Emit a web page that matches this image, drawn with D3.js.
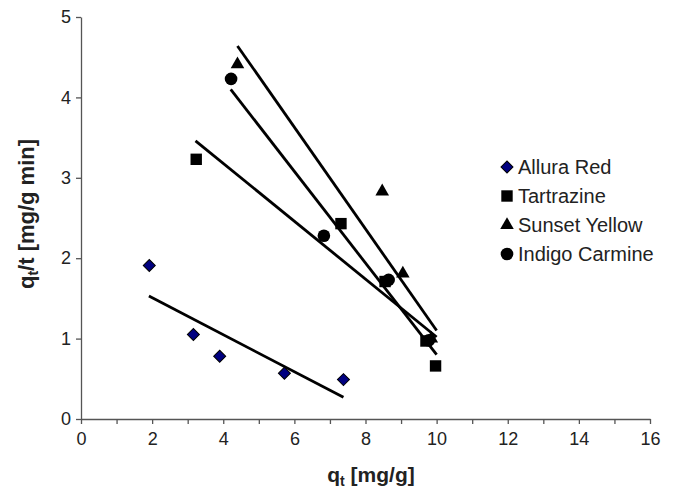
<!DOCTYPE html>
<html>
<head>
<meta charset="utf-8">
<script src="https://cdn.jsdelivr.net/npm/d3@7"></script>
<style>
  body { margin: 0; background: #fff; }
  text { font-family: Arial, "Liberation Sans", sans-serif; }
</style>
</head>
<body>
<svg width="673" height="492"></svg>
<script>
// series names
var seriesNames = ["Allura Red", "Tartrazine", "Sunset Yellow", "Indigo Carmine"];

// measured points (qt, qt/t)
var alluraX = [1.92, 3.16, 3.9, 5.72, 7.38];
var alluraY = [1.91, 1.05, 0.78, 0.57, 0.49];
var tartrazineX = [3.24, 7.31, 8.55, 9.7, 9.97];
var tartrazineY = [3.23, 2.43, 1.71, 0.97, 0.66];
var sunsetX = [4.4, 8.47, 9.05, 9.85];
var sunsetY = [4.41, 2.83, 1.81, 1.0];
var indigoX = [4.22, 6.83, 8.65, 9.78];
var indigoY = [4.23, 2.28, 1.73, 0.98];

// fitted trend lines, read as [x0, y0, x1, y1]
var alluraFit = [1.91, 1.53, 7.38, 0.27];
var tartrazineFit = [3.22, 3.46, 10.0, 1.02];
var sunsetFit = [4.4, 4.64, 10.0, 1.1];
var indigoFit = [4.21, 4.1, 10.0, 0.8];

// axis ticks
var xTicks = [0, 1, 2, 3, 4, 5, 6, 7, 8, 9, 10, 11, 12, 13, 14, 15, 16];
var yTicks = [0, 1, 2, 3, 4, 5];

var svg = d3.select("svg");
svg.append("rect").attr("width", 673).attr("height", 492).attr("fill", "#fff");

var plotLeft = 81, plotRight = 650, plotTop = 17, plotBottom = 419;

var x = d3.scaleLinear().domain([0, 16]).range([plotLeft, plotRight]);
var y = d3.scaleLinear().domain([0, 5]).range([plotBottom, plotTop]);

var axisColor = "#555";
var fontFam = "Arial, 'Liberation Sans', sans-serif";

// x axis
var xAxis = svg.append("g")
    .attr("transform", "translate(0," + plotBottom + ")")
    .call(d3.axisBottom(x).tickValues(xTicks).tickSize(5).tickSizeOuter(0).tickPadding(8)
        .tickFormat(function(d) { return d % 2 == 0 ? d : ""; }));
xAxis.select(".domain").attr("stroke", axisColor).attr("stroke-width", 1.3);
xAxis.selectAll(".tick line").attr("stroke", axisColor).attr("stroke-width", 1.3);
xAxis.selectAll(".tick text").attr("font-size", 18).attr("fill", "#222")
    .style("font-family", fontFam);

// y axis
var yAxis = svg.append("g")
    .attr("transform", "translate(" + plotLeft + ",0)")
    .call(d3.axisLeft(y).tickValues(yTicks).tickFormat(d3.format("d"))
        .tickSize(5).tickSizeOuter(0).tickPadding(5));
yAxis.select(".domain").attr("stroke", axisColor).attr("stroke-width", 1.3);
yAxis.selectAll(".tick line").attr("stroke", axisColor).attr("stroke-width", 1.3);
yAxis.selectAll(".tick text").attr("font-size", 18).attr("fill", "#222")
    .style("font-family", fontFam);

// axis titles
var xTitle = svg.append("text")
    .attr("x", 371).attr("y", 482)
    .attr("text-anchor", "middle")
    .attr("font-size", 21).attr("font-weight", "bold").attr("fill", "#222");
xTitle.append("tspan").text("q");
xTitle.append("tspan").attr("font-size", 14).attr("dy", 4).text("t");
xTitle.append("tspan").attr("dy", -4).text(" [mg/g]");

var yTitle = svg.append("text")
    .attr("transform", "translate(34,214) rotate(-90)")
    .attr("text-anchor", "middle")
    .attr("font-size", 22).attr("font-weight", "bold").attr("fill", "#222");
yTitle.append("tspan").text("q");
yTitle.append("tspan").attr("font-size", 14).attr("dy", 4).text("t");
yTitle.append("tspan").attr("dy", -4).text("/t [mg/g min]");

// series definitions
function zip(xs, ys) { return xs.map(function(v, i) { return [v, ys[i]]; }); }

var series = [
    { name: seriesNames[0], pts: zip(alluraX, alluraY), fit: alluraFit,
      shape: d3.symbolSquare, size: 72, rotate: 45, fill: "#000080", stroke: "#000" },
    { name: seriesNames[1], pts: zip(tartrazineX, tartrazineY), fit: tartrazineFit,
      shape: d3.symbolSquare, size: 130, rotate: 0, fill: "#000", stroke: "none" },
    { name: seriesNames[2], pts: zip(sunsetX, sunsetY), fit: sunsetFit,
      shape: d3.symbolTriangle, size: 80, rotate: 0, fill: "#000", stroke: "none" },
    { name: seriesNames[3], pts: zip(indigoX, indigoY), fit: indigoFit,
      shape: d3.symbolCircle, size: 125, rotate: 0, fill: "#000", stroke: "none" }
];

// trend lines
svg.append("g").selectAll("line")
    .data(series)
    .enter().append("line")
    .attr("x1", function(d) { return x(d.fit[0]); })
    .attr("y1", function(d) { return y(d.fit[1]); })
    .attr("x2", function(d) { return x(d.fit[2]); })
    .attr("y2", function(d) { return y(d.fit[3]); })
    .attr("stroke", "#000")
    .attr("stroke-width", 2.8);

// markers (last series first so Allura sits on top)
series.slice().reverse().forEach(function(s) {
    svg.append("g").selectAll("path")
        .data(s.pts)
        .enter().append("path")
        .attr("d", d3.symbol().type(s.shape).size(s.size))
        .attr("transform", function(d) {
            return "translate(" + x(d[0]) + "," + y(d[1]) + ") rotate(" + s.rotate + ")";
        })
        .attr("fill", s.fill)
        .attr("stroke", s.stroke)
        .attr("stroke-width", 1);
});

// legend
var legend = svg.append("g").attr("transform", "translate(507,167)");
var row = legend.selectAll("g")
    .data(series)
    .enter().append("g")
    .attr("transform", function(d, i) { return "translate(0," + (i * 29) + ")"; });
row.append("path")
    .attr("d", function(d) { return d3.symbol().type(d.shape).size(d.size)(); })
    .attr("transform", function(d) { return "rotate(" + d.rotate + ")"; })
    .attr("fill", function(d) { return d.fill; })
    .attr("stroke", function(d) { return d.stroke; })
    .attr("stroke-width", 1);
row.append("text")
    .attr("x", 11).attr("dy", "0.36em")
    .attr("font-size", 20).attr("fill", "#222")
    .text(function(d) { return d.name; });
</script>
</body>
</html>
